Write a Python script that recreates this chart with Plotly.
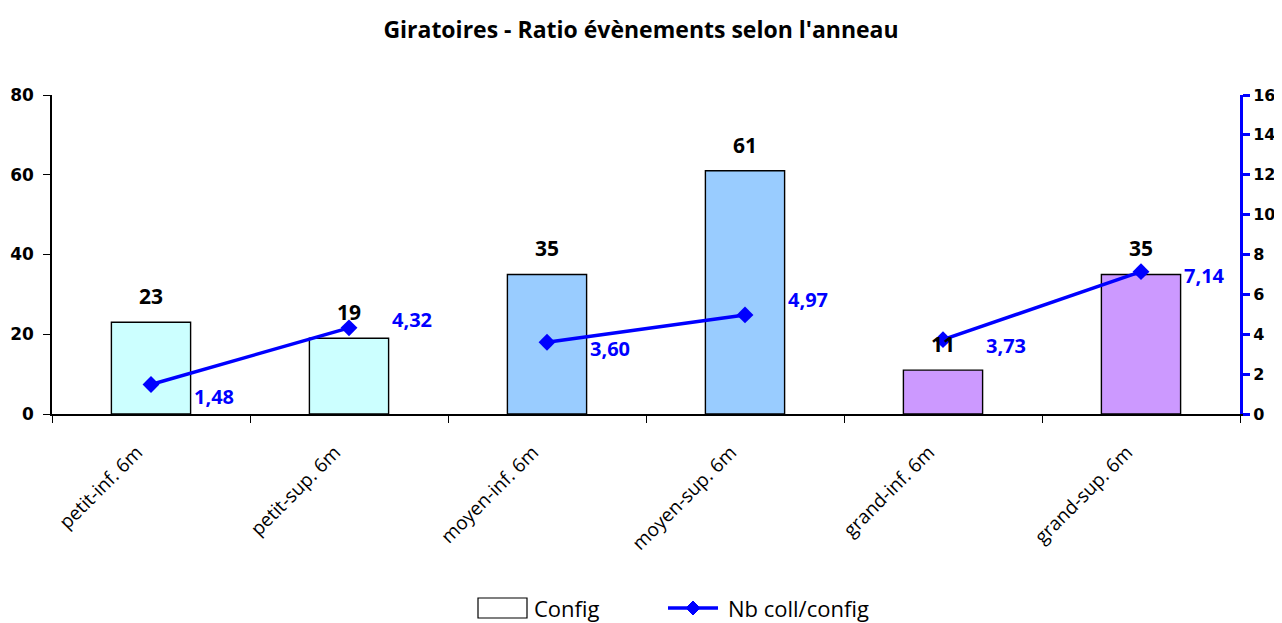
import plotly.graph_objects as go

categories = ["petit-inf. 6m", "petit-sup. 6m", "moyen-inf. 6m",
              "moyen-sup. 6m", "grand-inf. 6m", "grand-sup. 6m"]
config = [23, 19, 35, 61, 11, 35]
ratio = [1.48, 4.32, 3.60, 4.97, 3.73, 7.14]
ratio_labels = ["1,48", "4,32", "3,60", "4,97", "3,73", "7,14"]
bar_colors = ["#CCFFFF", "#CCFFFF", "#99CCFF", "#99CCFF", "#CC99FF", "#CC99FF"]
# line is drawn in pairs (petit / moyen / grand)
pairs = [(0, 1), (2, 3), (4, 5)]
label_yshift = [-12, 8, -6, 15, -6, -4]

FONT = "Open Sans"
BLUE = "#0000FF"
W, H = 1266, 615
L, R, T, B = 44, 34, 87, 209

fig = go.Figure()

fig.add_trace(go.Bar(x=categories, y=config, width=0.4, showlegend=False,
                     marker=dict(color=bar_colors, line=dict(color="black", width=1.4))))

for a, b in pairs:
    fig.add_trace(go.Scatter(
        x=[categories[a], categories[b]], y=[ratio[a], ratio[b]],
        yaxis="y2", mode="lines+markers", showlegend=False,
        line=dict(color=BLUE, width=3.5),
        marker=dict(symbol="diamond", size=13, color=BLUE)))

for i, c in enumerate(categories):
    fig.add_annotation(x=c, y=config[i], xref="x", yref="y", text=str(config[i]),
                       showarrow=False, yanchor="bottom", yshift=10,
                       font=dict(family=FONT, size=21, color="black", weight="bold"))
    fig.add_annotation(x=c, y=ratio[i], xref="x", yref="y2", text=ratio_labels[i],
                       showarrow=False, xanchor="left", xshift=41, yshift=label_yshift[i],
                       font=dict(family=FONT, size=20, color=BLUE, weight="bold"))


# hand-made legend (Excel style wide swatch); paper coords are relative to the plot area
def px(x):
    return (x - L) / (W - L - R)


def py(y):
    return (H - B - y) / (H - T - B)


ly = 600
fig.add_shape(type="rect", xref="paper", yref="paper",
              x0=px(470), x1=px(519), y0=py(ly - 10), y1=py(ly + 10),
              line=dict(color="black", width=1.2), fillcolor="white")
fig.add_annotation(xref="paper", yref="paper", x=px(524), y=py(ly), text="Config",
                   showarrow=False, xanchor="left", yanchor="middle",
                   font=dict(family=FONT, size=22, color="black"))
fig.add_shape(type="line", xref="paper", yref="paper",
              x0=px(660), x1=px(710), y0=py(ly), y1=py(ly),
              line=dict(color=BLUE, width=3.5))
d = 7
fig.add_shape(type="path", xref="paper", yref="paper",
              path=f"M {px(685 - d)} {py(ly)} L {px(685)} {py(ly - d)} "
                   f"L {px(685 + d)} {py(ly)} L {px(685)} {py(ly + d)} Z",
              line=dict(color=BLUE, width=1), fillcolor=BLUE)
fig.add_annotation(xref="paper", yref="paper", x=px(718), y=py(ly), text="Nb coll/config",
                   showarrow=False, xanchor="left", yanchor="middle",
                   font=dict(family=FONT, size=22, color="black"))

fig.update_layout(
    width=W, height=H,
    paper_bgcolor="white", plot_bgcolor="white",
    margin=dict(l=L, r=R, t=T, b=B, autoexpand=False),
    title=dict(text="Giratoires - Ratio évènements selon l'anneau",
               x=0.5, xanchor="center", y=1 - 22 / H, yanchor="middle",
               font=dict(family=FONT, size=23, color="black", weight="bold")),
    font=dict(family=FONT, color="black"),
    xaxis=dict(type="category", tickangle=-45, tickson="boundaries",
               ticks="outside", ticklen=7, tickcolor="black",
               showline=True, linecolor="black", linewidth=1.5,
               ticklabelstandoff=18, ticklabelshift=-14, automargin=False,
               showgrid=False, tickfont=dict(family=FONT, size=19, color="black")),
    yaxis=dict(range=[0, 80], dtick=20, ticks="outside", ticklen=7,
               tickcolor="black", showline=True, linecolor="black", linewidth=1.5,
               showgrid=False, zeroline=False, automargin=False, ticklabelstandoff=6,
               tickfont=dict(family="DejaVu Sans", size=17, color="black", weight="bold")),
    yaxis2=dict(range=[0, 16], dtick=2, overlaying="y", side="right",
                ticks="outside", ticklen=7, tickcolor=BLUE, tickwidth=3,
                showline=True, linecolor=BLUE, linewidth=3,
                showgrid=False, zeroline=False, automargin=False,
                tickfont=dict(family="DejaVu Sans", size=16, color="black", weight="bold")),
)

fig.write_html("out.html")
